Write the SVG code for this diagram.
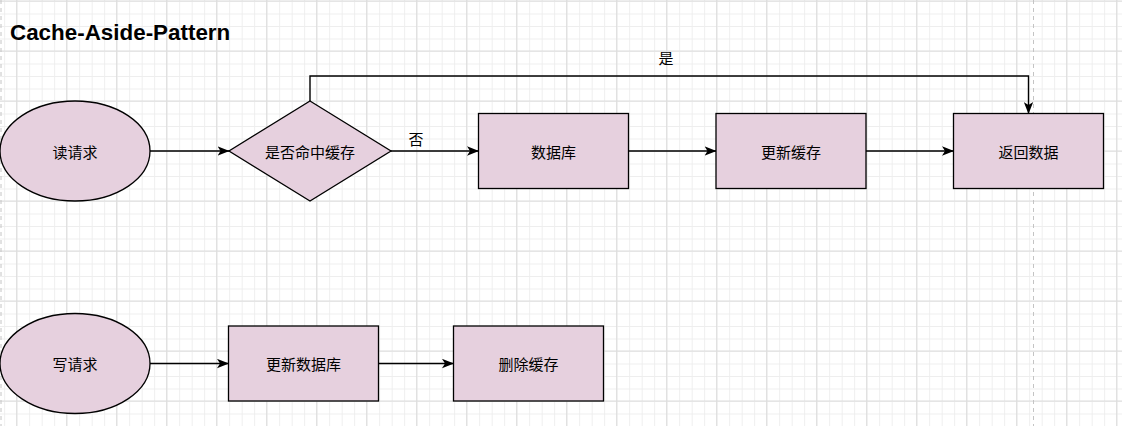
<svg xmlns="http://www.w3.org/2000/svg" width="1122" height="426" viewBox="0 0 1122 426">
  <defs>
    <pattern id="minor" x="4.17" y="1" width="12.5" height="12.5" patternUnits="userSpaceOnUse">
      <path d="M0.5,0 V12.5 M0,0.5 H12.5" stroke="#eeeeee" stroke-width="1" fill="none"/>
    </pattern>
    <pattern id="major" x="16.17" y="0.5" width="50" height="50" patternUnits="userSpaceOnUse">
      <path d="M0.5,0 V50 M0,0.5 H50" stroke="#dcdcdc" stroke-width="1" fill="none"/>
    </pattern>
    <marker id="arr" viewBox="0 0 12 10" refX="11.5" refY="5" markerWidth="12" markerHeight="10" markerUnits="userSpaceOnUse" orient="auto">
      <path d="M0,0.3 L12,5 L0,9.7 L3,5 Z" fill="#000"/>
    </marker>
  </defs>
  <style>
    .node { fill: #e6d0de; stroke: #000; stroke-width: 1.3; }
    .lbl { font-family: "Noto Sans CJK SC", "Liberation Sans", sans-serif; font-size: 15px; fill: #000; text-anchor: middle; dominant-baseline: central; }
    .edge { fill: none; stroke: #000; stroke-width: 1.4; marker-end: url(#arr); }
    .title { font-family: "Liberation Sans", Arial, sans-serif; font-weight: bold; font-size: 22.4px; fill: #000; }
  </style>
  <rect width="1122" height="426" fill="#fff"/>
  <rect width="1122" height="426" fill="url(#minor)"/>
  <rect width="1122" height="426" fill="url(#major)"/>
  <path d="M1,0 V426 M1033.5,0 V426" stroke="#c4c4c4" stroke-width="1" stroke-dasharray="4,4" fill="none"/>

  <text class="title" x="10" y="40">Cache-Aside-Pattern</text>

  <g id="connectors">
    <line class="edge" x1="150" y1="151" x2="229" y2="151"/>
    <line class="edge" x1="391" y1="151" x2="478.5" y2="151"/>
    <line class="edge" x1="628.5" y1="151" x2="716" y2="151"/>
    <line class="edge" x1="866" y1="151" x2="953.5" y2="151"/>
    <path class="edge" d="M310,101 V76 H1028.5 V113.5"/>
    <line class="edge" x1="150" y1="363.5" x2="228.5" y2="363.5"/>
    <line class="edge" x1="378.5" y1="363.5" x2="453.5" y2="363.5"/>
    <text class="lbl" x="416" y="138">否</text>
    <text class="lbl" x="666" y="57">是</text>
  </g>

  <g id="read-request">
    <ellipse class="node" cx="75" cy="151" rx="75" ry="50"/>
    <text class="lbl" x="75" y="151">读请求</text>
  </g>
  <g id="cache-hit">
    <polygon class="node" points="310,101 391,151 310,201 229,151"/>
    <text class="lbl" x="310" y="151">是否命中缓存</text>
  </g>
  <g id="database">
    <rect class="node" x="478.5" y="113.5" width="150" height="75"/>
    <text class="lbl" x="553.5" y="151">数据库</text>
  </g>
  <g id="update-cache">
    <rect class="node" x="716" y="113.5" width="150" height="75"/>
    <text class="lbl" x="791" y="151">更新缓存</text>
  </g>
  <g id="return-data">
    <rect class="node" x="953.5" y="113.5" width="150" height="75"/>
    <text class="lbl" x="1028.5" y="151">返回数据</text>
  </g>
  <g id="write-request">
    <ellipse class="node" cx="75" cy="363.5" rx="75" ry="50"/>
    <text class="lbl" x="75" y="363.5">写请求</text>
  </g>
  <g id="update-db">
    <rect class="node" x="228.5" y="326" width="150" height="75"/>
    <text class="lbl" x="303.5" y="363.5">更新数据库</text>
  </g>
  <g id="delete-cache">
    <rect class="node" x="453.5" y="326" width="150" height="75"/>
    <text class="lbl" x="528.5" y="363.5">删除缓存</text>
  </g>
</svg>
